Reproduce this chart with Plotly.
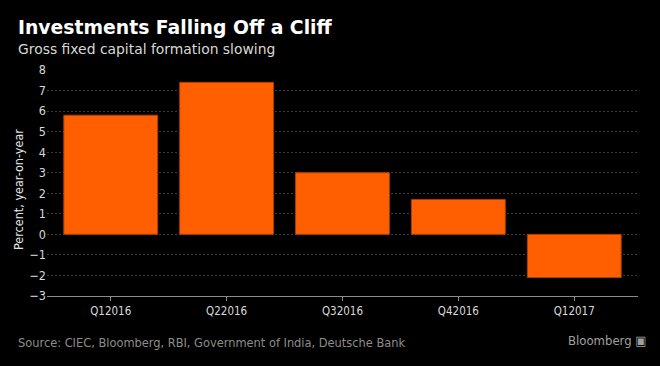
import plotly.graph_objects as go

categories = ["Q12016", "Q22016", "Q32016", "Q42016", "Q12017"]
values = [5.8, 7.4, 3.0, 1.7, -2.1]
y_ticks = [-3, -2, -1, 0, 1, 2, 3, 4, 5, 6, 7, 8]

W, H = 660, 366
L, R, T, B = 47, 22, 70, 70
PW, PH = W - L - R, H - T - B

def px_x(x):
    return (x - L) / PW

def px_y(y):
    return (H - B - y) / PH

fig = go.Figure()
fig.add_trace(go.Bar(
    x=list(range(len(categories))), y=values,
    marker=dict(color="#ff5f00", line=dict(color="#a83f00", width=1)),
    width=0.81, hoverinfo="skip",
))

tick_font = "DejaVu Sans Condensed, DejaVu Sans, sans-serif"
fig.update_layout(
    width=W, height=H,
    paper_bgcolor="black", plot_bgcolor="black",
    margin=dict(l=L, r=R, t=T, b=B, autoexpand=False),
    showlegend=False,
    font=dict(family=tick_font, color="#d9d9d9", size=12),
    xaxis=dict(
        range=[-0.55, 4.55], automargin=False,
        tickvals=list(range(len(categories))), ticktext=categories,
        showgrid=False, zeroline=False,
        showline=True, linecolor="#8a8a8a", linewidth=1,
        ticks="outside", tickcolor="#8a8a8a", ticklen=4,
        tickfont=dict(size=11.5, color="#d9d9d9"),
    ),
    yaxis=dict(
        range=[-3, 8], tickvals=y_ticks, automargin=False,
        showgrid=True, gridcolor="#3c3c3c", griddash="2px,2px", gridwidth=1,
        zeroline=False, showline=False, ticks="",
        tickfont=dict(size=12.5, color="#d9d9d9"),
    ),
)

fig.add_annotation(xref="paper", yref="paper", x=px_x(18), y=px_y(190),
                   xanchor="center", yanchor="middle", showarrow=False, textangle=-90,
                   text="Percent, year-on-year",
                   font=dict(family=tick_font, size=12.5, color="#e6e6e6"))
fig.add_annotation(xref="paper", yref="paper", x=px_x(16), y=px_y(28),
                   xanchor="left", yanchor="middle", showarrow=False,
                   text="<b>Investments Falling Off a Cliff</b>",
                   font=dict(family="DejaVu Sans", size=18.8, color="white"))
fig.add_annotation(xref="paper", yref="paper", x=px_x(16), y=px_y(49),
                   xanchor="left", yanchor="middle", showarrow=False,
                   text="Gross fixed capital formation slowing",
                   font=dict(family="DejaVu Sans", size=13.9, color="#d9d9d9"))
fig.add_annotation(xref="paper", yref="paper", x=px_x(16), y=px_y(342),
                   xanchor="left", yanchor="middle", showarrow=False,
                   text="Source: CIEC, Bloomberg, RBI, Government of India, Deutsche Bank",
                   font=dict(family=tick_font, size=12.7, color="#8c8c8c"))
fig.add_annotation(xref="paper", yref="paper", x=px_x(648), y=px_y(340),
                   xanchor="right", yanchor="middle", showarrow=False,
                   text="Bloomberg ▣",
                   font=dict(family=tick_font, size=13, color="#a0a0a0"))

fig.write_html("out.html", config={"displayModeBar": False},
               post_script="document.body.style.margin='0';document.body.style.background='black';")
